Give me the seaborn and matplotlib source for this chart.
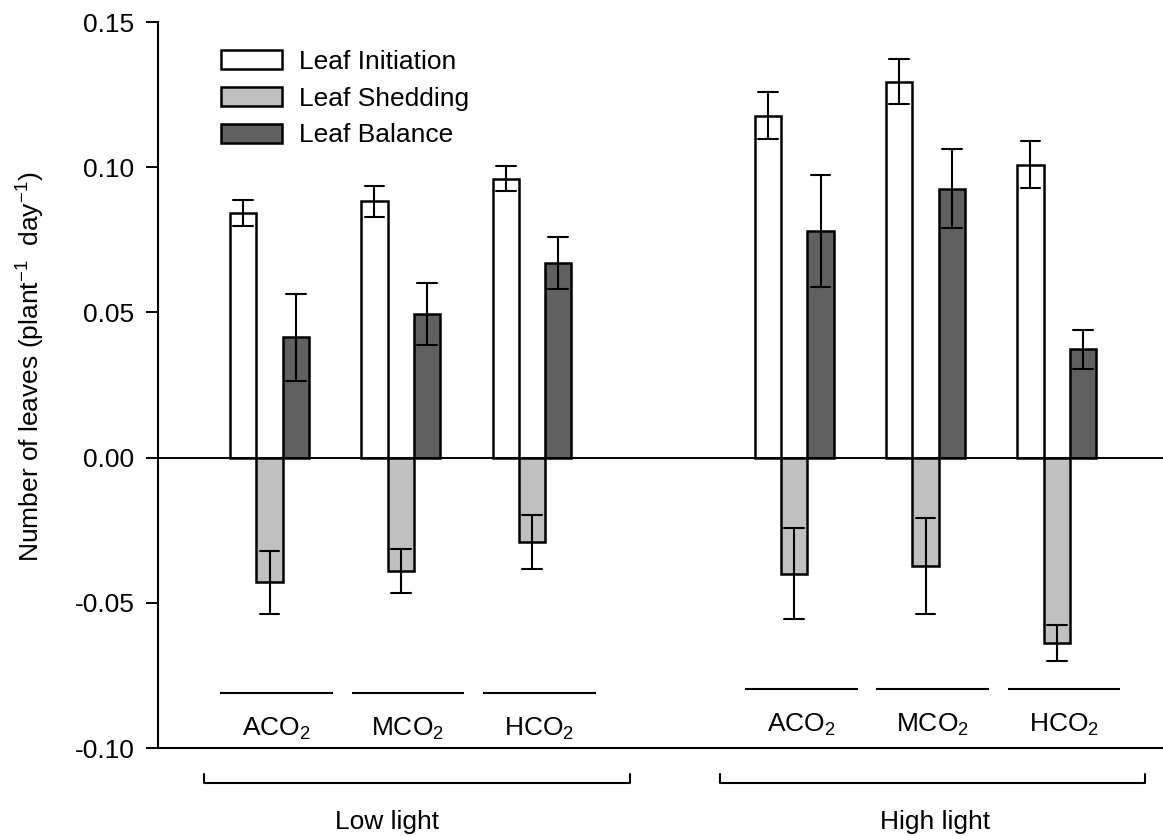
import matplotlib
matplotlib.use("Agg")
import matplotlib.pyplot as plt
import seaborn as sns
import pandas as pd
import numpy as np

# ---------------- data ----------------
lights = ["Low light", "High light"]
co2_levels = ["ACO$_2$", "MCO$_2$", "HCO$_2$"]
series = ["Leaf Initiation", "Leaf Shedding", "Leaf Balance"]

initiation_low = [0.0843, 0.0882, 0.0960]
initiation_high = [0.1178, 0.1294, 0.1009]
initiation_err_low = [0.0045, 0.0052, 0.0043]
initiation_err_high = [0.0080, 0.0077, 0.0080]

shedding_low = [-0.0430, -0.0390, -0.0290]
shedding_high = [-0.0400, -0.0372, -0.0639]
shedding_err_low = [0.0108, 0.0075, 0.0092]
shedding_err_high = [0.0156, 0.0165, 0.0061]

balance_low = [0.0415, 0.0494, 0.0670]
balance_high = [0.0781, 0.0926, 0.0373]
balance_err_low = [0.0150, 0.0107, 0.0091]
balance_err_high = [0.0193, 0.0135, 0.0068]

yticks = [-0.10, -0.05, 0.00, 0.05, 0.10, 0.15]
ylabel = "Number of leaves (plant$^{-1}$  day$^{-1}$)"

colors = ["white", "#c0c0c0", "#606060"]

values = {
    ("Leaf Initiation", "Low light"): (initiation_low, initiation_err_low),
    ("Leaf Initiation", "High light"): (initiation_high, initiation_err_high),
    ("Leaf Shedding", "Low light"): (shedding_low, shedding_err_low),
    ("Leaf Shedding", "High light"): (shedding_high, shedding_err_high),
    ("Leaf Balance", "Low light"): (balance_low, balance_err_low),
    ("Leaf Balance", "High light"): (balance_high, balance_err_high),
}

# positions: each light group of 3 CO2 levels, one empty slot between groups
rows = []
for li, light in enumerate(lights):
    for ci, co2 in enumerate(co2_levels):
        pos = li * 4 + ci
        for s in series:
            v, e = values[(s, light)]
            rows.append({"pos": pos, "series": s, "val": v[ci] - e[ci]})
            rows.append({"pos": pos, "series": s, "val": v[ci] + e[ci]})
df = pd.DataFrame(rows)

# ---------------- style ----------------
sns.set_style("ticks")
plt.rcParams["font.family"] = ["Liberation Sans", "DejaVu Sans"]
plt.rcParams["mathtext.fontset"] = "custom"
plt.rcParams["mathtext.rm"] = "Liberation Sans"
plt.rcParams["mathtext.it"] = "Liberation Sans:italic"
plt.rcParams["mathtext.bf"] = "Liberation Sans:bold"
for k in ["text.color", "axes.labelcolor", "xtick.color", "ytick.color", "axes.edgecolor"]:
    plt.rcParams[k] = "black"

FS = 19
W, H = 1163, 836
fig = plt.figure(figsize=(W / 100, H / 100), dpi=100)
ax = fig.add_axes([158 / W, 1 - 748 / H, 1 - 158 / W, (748 - 22) / H])

sns.barplot(
    data=df, x="pos", y="val", hue="series", hue_order=series,
    palette=colors, native_scale=True, width=0.6, gap=0,
    estimator="mean", errorbar=lambda v: (v.min(), v.max()),
    capsize=0.45, err_kws={"color": "black", "linewidth": 1.5},
    edgecolor="black", linewidth=1.8, saturation=1, ax=ax,
)

ax.set_ylim(-0.10, 0.15)
ax.set_xlim(-0.85, 6.81)
ax.set_yticks(yticks)
ax.set_yticklabels([f"{t:.2f}" for t in yticks], fontsize=FS, color="black")
ax.set_xticks([])
ax.set_xlabel("")
ax.set_ylabel(ylabel, fontsize=FS, color="black")
ax.yaxis.set_label_coords(-0.110, 0.525)

for side in ["top", "right"]:
    ax.spines[side].set_visible(False)
for side in ["left", "bottom"]:
    ax.spines[side].set_linewidth(1.5)
    ax.spines[side].set_color("black")
ax.tick_params(axis="y", direction="out", length=8.5, width=1.4, pad=8.5, colors="black")

ax.axhline(0, color="black", linewidth=1.4, zorder=5)

# legend
old = ax.get_legend()
handles = old.legend_handles
labels = [t.get_text() for t in old.get_texts()]
for h, c in zip(handles, colors):
    h.set_facecolor(c)
    h.set_edgecolor("black")
    h.set_linewidth(1.8)
ax.legend(handles, labels, loc="upper left",
          bbox_to_anchor=(221 / W, 1 - 50 / H), bbox_transform=fig.transFigure,
          frameon=False, fontsize=FS, handlelength=2.31, handleheight=0.72,
          handletextpad=0.65, labelspacing=0.48, borderpad=0, borderaxespad=0,
          labelcolor="black")

# CO2 group labels with underline
line_y = {"Low light": -0.0809, "High light": -0.0798}
text_y = {"Low light": -0.0957, "High light": -0.0944}
for li, light in enumerate(lights):
    for ci, co2 in enumerate(co2_levels):
        pos = li * 4 + ci
        ax.hlines(line_y[light], pos - 0.375, pos + 0.485, color="black", linewidth=1.5)
        ax.text(pos + 0.055, text_y[light], co2, fontsize=FS, ha="center",
                va="baseline", color="black")

# light brackets
bracket_span = {"Low light": (-0.50, 2.747), "High light": (3.433, 6.67)}
bracket_text_x = {"Low light": 0.895, "High light": 5.074}
for light in lights:
    x0, x1 = bracket_span[light]
    ax.plot([x0, x0, x1, x1], [-0.1088, -0.1121, -0.1121, -0.1088],
            color="black", linewidth=1.5, clip_on=False)
    ax.text(bracket_text_x[light], -0.1278, light, fontsize=FS, color="black",
            ha="center", va="baseline", clip_on=False)

fig.savefig("out.png", dpi=100)
